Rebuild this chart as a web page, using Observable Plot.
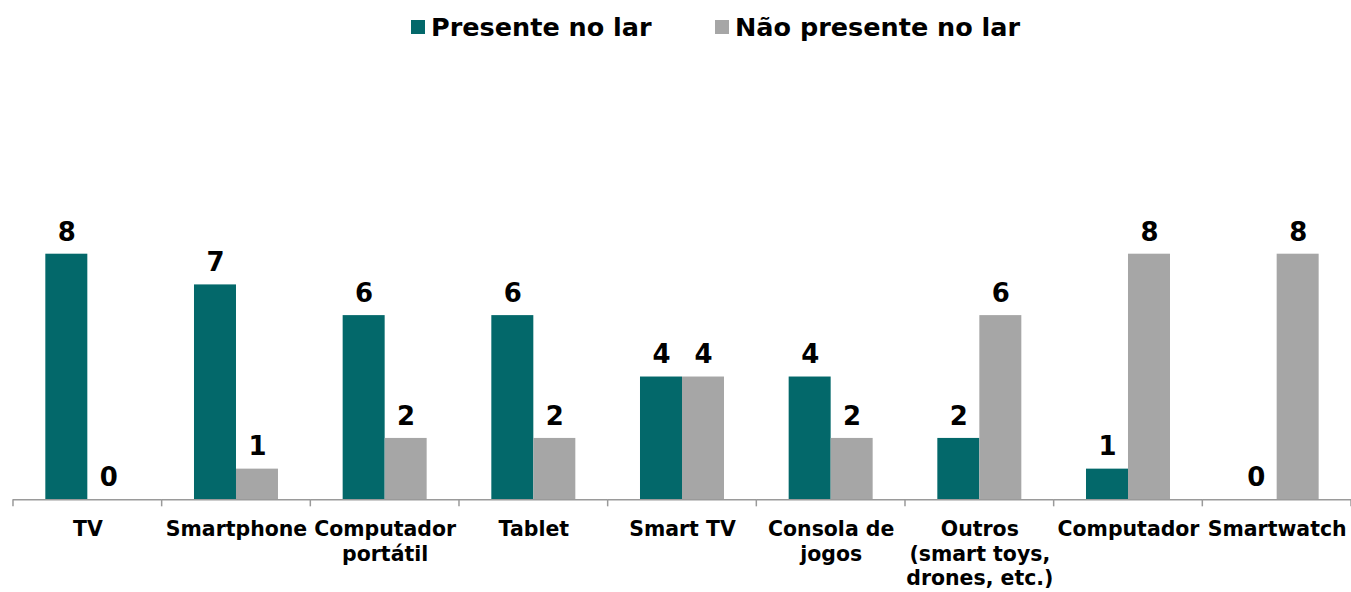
<!DOCTYPE html>
<html>
<head>
<meta charset="utf-8">
<script src="https://cdn.jsdelivr.net/npm/d3@7"></script>
<script src="https://cdn.jsdelivr.net/npm/@observablehq/plot@0.6"></script>
<style>
  html, body { margin: 0; padding: 0; background: #fff; }
  body { width: 1351px; height: 592px; overflow: hidden; font-family: "DejaVu Sans", sans-serif; }
  #legend { position: relative; height: 55px; }
  .item { position: absolute; top: 12px; display: flex; align-items: center; font-weight: bold; font-size: 25.5px; color: #000; }
  .sw { width: 14px; height: 14px; margin-right: 6px; }
</style>
</head>
<body>
<div id="legend"></div>
<div id="chart"></div>
<script>
const categories = ["TV","Smartphone","Computador portátil","Tablet","Smart TV","Consola de jogos","Outros (smart toys, drones, etc.)","Computador","Smartwatch"];
const tickLabels = ["TV","Smartphone","Computador\nportátil","Tablet","Smart TV","Consola de\njogos","Outros\n(smart toys,\ndrones, etc.)","Computador","Smartwatch"];
const series = ["Presente no lar","Não presente no lar"];
const presente = [8,7,6,6,4,4,2,1,0];
const naoPresente = [0,1,2,2,4,2,6,8,8];
const colors = ["#03686A","#A6A6A6"];

const data = categories.flatMap((c, i) => [
  {category: c, series: series[0], value: presente[i]},
  {category: c, series: series[1], value: naoPresente[i]}
]);

// legend
const legend = document.getElementById("legend");
const legendLeft = [411, 715];
series.forEach((s, i) => {
  const it = document.createElement("div");
  it.className = "item";
  it.style.left = legendLeft[i] + "px";
  it.innerHTML = `<span class="sw" style="background:${colors[i]}"></span><span>${s}</span>`;
  legend.appendChild(it);
});

const plot = Plot.plot({
  width: 1353,
  height: 537,
  marginLeft: 13,
  marginRight: 0,
  marginTop: 199,
  marginBottom: 92,
  style: {fontFamily: "DejaVu Sans", fontWeight: "bold", color: "#000", background: "white"},
  fx: {domain: categories, padding: 0, round: false, label: null},
  x: {domain: series, paddingInner: 0, paddingOuter: 0.77, round: false, axis: null},
  y: {domain: [0, 8], axis: null},
  color: {domain: series, range: colors},
  marks: [
    Plot.barY(data, {fx: "category", x: "series", y: "value", fill: "series"}),
    Plot.text(data, {fx: "category", x: "series", y: "value", text: d => String(d.value), dy: -22, fontSize: 26, fontWeight: "bold", fill: "#000"}),
    Plot.ruleY([0], {stroke: "#9A9A9A", strokeWidth: 1.5}),
    Plot.axisFx({anchor: "bottom", tickSize: 0, tickPadding: 18, fontSize: 20.5, fontWeight: "bold", lineHeight: 1.22, label: null,
      tickFormat: d => tickLabels[categories.indexOf(d)]})
  ]
});
document.getElementById("chart").appendChild(plot);

// boundary ticks on the category axis, positioned from the fx and y scales
const fx = plot.scale("fx");
const ys = plot.scale("y");
const y0 = ys.apply(0);
const svg = d3.select(plot.tagName.toLowerCase() === "svg" ? plot : plot.querySelector("svg"));
const edges = categories.map(c => fx.apply(c)).concat([fx.apply(categories[categories.length - 1]) + fx.bandwidth]);
svg.append("g").selectAll("line").data(edges).join("line")
  .attr("x1", d => d).attr("x2", d => d)
  .attr("y1", y0).attr("y2", y0 + 7)
  .attr("stroke", "#9A9A9A").attr("stroke-width", 1.5);
</script>
</body>
</html>
